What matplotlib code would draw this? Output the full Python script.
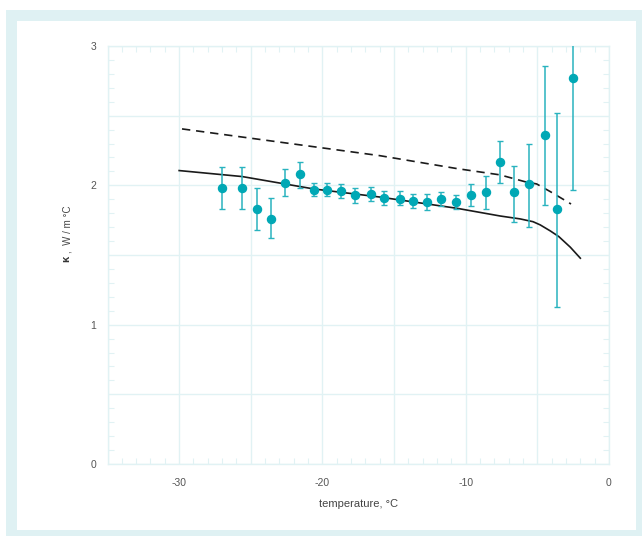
import matplotlib
matplotlib.use("Agg")
import matplotlib.pyplot as plt
from matplotlib.patches import Rectangle
from matplotlib.ticker import MultipleLocator, FuncFormatter

# ---- data ----
temp = [-27.0, -25.6, -24.6, -23.6, -22.6, -21.6, -20.6, -19.7, -18.7, -17.7,
        -16.6, -15.7, -14.6, -13.7, -12.7, -11.7, -10.7, -9.6, -8.6, -7.6,
        -6.6, -5.6, -4.5, -3.6, -2.5]
kappa = [1.98, 1.98, 1.83, 1.76, 2.02, 2.08, 1.97, 1.97, 1.96, 1.93,
         1.94, 1.91, 1.90, 1.89, 1.88, 1.90, 1.88, 1.93, 1.95, 2.17,
         1.95, 2.01, 2.36, 1.83, 2.77]
kappa_hi = [2.13, 2.13, 1.98, 1.91, 2.12, 2.17, 2.02, 2.02, 2.01, 1.98,
            1.99, 1.96, 1.96, 1.94, 1.94, 1.95, 1.93, 2.01, 2.07, 2.32,
            2.14, 2.30, 2.86, 2.52, 3.60]
kappa_lo = [1.83, 1.83, 1.68, 1.62, 1.92, 1.98, 1.92, 1.92, 1.91, 1.87,
            1.89, 1.86, 1.86, 1.84, 1.82, 1.85, 1.83, 1.85, 1.83, 2.02,
            1.74, 1.70, 1.86, 1.13, 1.97]

temp_solid = [-30.0, -25.6, -20.6, -16.0, -10.6, -7.6, -6.2, -5.3, -4.8, -4.1, -3.5, -2.7, -2.0]
kappa_solid = [2.106, 2.063, 1.974, 1.916, 1.835, 1.780, 1.759, 1.739, 1.716, 1.673, 1.632, 1.556, 1.477]

temp_dash = [-29.8, -16.0, -10.6, -7.6, -5.9, -5.05, -4.1, -3.2, -2.65]
kappa_dash = [2.405, 2.213, 2.12, 2.075, 2.027, 2.010, 1.955, 1.900, 1.866]

x_ticks = [-30, -20, -10, 0]
y_ticks = [0, 1, 2, 3]

# ---- figure ----
W, H = 642, 536
plt.rcParams['font.family'] = ['Liberation Sans', 'DejaVu Sans']
fig = plt.figure(figsize=(W / 100, H / 100), dpi=100)

frame_col = '#dff1f3'
fig.patches.append(Rectangle((6 / W, 0), 1 - 6 / W, 1 - 10 / H, transform=fig.transFigure,
                             facecolor=frame_col, edgecolor='none', zorder=-2))
fig.patches.append(Rectangle((17 / W, 6 / H), (636 - 17) / W, (515 - 6) / H,
                             transform=fig.transFigure, facecolor='white',
                             edgecolor='none', zorder=-1))

ax = fig.add_axes([107.5 / W, (H - 464) / H, (609 - 107.5) / W, (464 - 46) / H])
ax.set_zorder(2)
ax.set_facecolor('none')

grid_col = '#e1f2f4'
ax.set_xlim(-35, 0)
ax.set_ylim(0, 3)
ax.xaxis.set_major_locator(MultipleLocator(5))
ax.xaxis.set_minor_locator(MultipleLocator(1))
ax.yaxis.set_major_locator(MultipleLocator(0.5))
ax.yaxis.set_minor_locator(MultipleLocator(0.1))
ax.xaxis.set_major_formatter(FuncFormatter(lambda v, p: f"{int(round(v))}" if int(round(v)) in x_ticks and abs(v - round(v)) < 1e-6 else ""))
ax.yaxis.set_major_formatter(FuncFormatter(lambda v, p: f"{int(round(v))}" if abs(v - round(v)) < 1e-6 and int(round(v)) in y_ticks else ""))
ax.grid(True, which='major', color=grid_col, linewidth=1.0, zorder=0)
ax.set_axisbelow(True)
for s in ax.spines.values():
    s.set_color(grid_col)
    s.set_linewidth(1.0)
ax.tick_params(which='major', length=0, labelsize=7.5, labelcolor='#555555')
ax.tick_params(axis='x', which='major', pad=10)
ax.tick_params(axis='y', which='major', pad=8)
ax.tick_params(which='minor', direction='in', length=4, width=0.8, color=grid_col,
               top=True, right=True)

ax.plot(temp_solid, kappa_solid, color='#1a1a1a', linewidth=1.2, zorder=3)
ax.plot(temp_dash, kappa_dash, color='#1a1a1a', linewidth=1.2, linestyle=(0, (5, 3.5)), zorder=3)

yerr = [[k - lo for k, lo in zip(kappa, kappa_lo)], [hi - k for k, hi in zip(kappa, kappa_hi)]]
ax.errorbar(temp, kappa, yerr=yerr, fmt='o', color='#00a8b5', ecolor='#29b3bf',
            markersize=5.8, elinewidth=1.1, capsize=2.2, capthick=1.0, zorder=4)

ax.set_xlabel("temperature, °C", fontsize=8, color='#444444', labelpad=8)

# y label: bold kappa + units
fig.text(66 / W, 1 - 259 / H, "κ", rotation=90, fontsize=8, fontweight='bold',
         color='#333333', ha='center', va='center')
fig.text(67 / W, 1 - 253 / H, ",  W / m °C", rotation=90, fontsize=7,
         color='#444444', ha='center', va='bottom')

fig.savefig("out.png", dpi=100)
